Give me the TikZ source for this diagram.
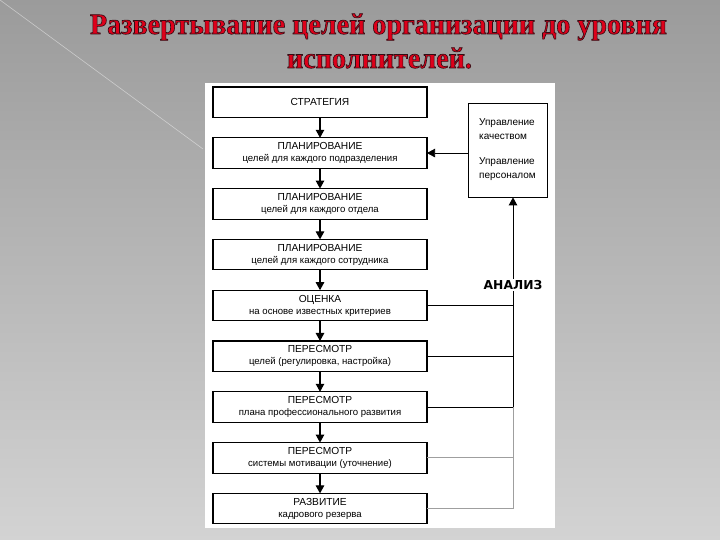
\documentclass[tikz,border=0pt]{standalone}
\usepackage{fontspec}
\setmainfont{Liberation Sans}
\newfontfamily\titlefont{Liberation Serif}
\newfontfamily\analysisfont{DejaVu Sans}
\usetikzlibrary{arrows.meta}
\usetikzlibrary{positioning}

\definecolor{titlered}{RGB}{222,0,26}
\definecolor{bgtop}{RGB}{155,155,155}
\definecolor{bgbottom}{RGB}{211,211,211}

\tikzset {
  syntax path/.style = {
    draw = black,
    line width = 0.8pt
  },
  % path style with an arrow at the end
  arr/.style = {
    syntax path,
    -{Triangle[length=8pt,width=8.5pt]}
  },
  % path style with no arrows
  narr/.style = {
    syntax path
  },
  % scanned lines that came out pale
  faded/.style = {
    syntax path,
    draw = gray!75
  }
}
\tikzset {
  stage/.style = {
    draw = black,
    line width = 1.1pt,
    fill = white,
    rectangle,
    minimum width = 214pt,
    minimum height = 30.5pt,
    inner sep = 0pt,
    outer sep = 0pt,
    align = center,
    font = \fontsize{9.6}{12}\selectfont
  },
  % side box on the right
  side/.style = {
    draw = black,
    line width = 0.8pt,
    fill = white,
    minimum width = 79pt,
    minimum height = 94pt,
    align = left,
    font = \fontsize{10}{14}\selectfont
  },
  title/.style = {
    anchor = base,
    inner sep = 0pt,
    text = titlered,
    font = \titlefont\bfseries\fontsize{29.5}{34}\selectfont
  },
  node distance = 20.3pt
}
\newcommand{\hd}[1]{{\fontsize{10.2}{12}\selectfont #1}}
% red title line with a dark edge round the letters
\newcommand{\edgedline}[2]{%
  \special{pdf:code q 2 Tr 0.65 w 0.2 0.05 0.08 RG}%
  \resizebox{#1}{\height}{#2}%
  \special{pdf:code Q}}

\begin{document}
\begin{tikzpicture}[x=1pt,y=1pt]
  \useasboundingbox (0,0) rectangle (720,540);
  \shade[top color=bgtop, bottom color=bgbottom] (0,0) rectangle (720,540);
  \draw[white, opacity=0.45, line width=0.6pt] (0,540) -- (203,391);
  \fill[white] (205,457) rectangle (555,12);

  % title
  \node[title] (title1) at (378.5,506)
    {\edgedline{577pt}{Развертывание целей организации до уровня}};
  \node[title] (title2) at (379.5,472)
    {\edgedline{185pt}{исполнителей.}};

  \node[stage] (strategy) at (320,437.75) {\hd{СТРАТЕГИЯ}};
  \node[stage] (plandept) [below=of strategy]
    {\hd{ПЛАНИРОВАНИЕ}\\целей для каждого подразделения};
  \node[stage] (plandiv) [below=of plandept]
    {\hd{ПЛАНИРОВАНИЕ}\\целей для каждого отдела};
  \node[stage] (planstaff) [below=of plandiv]
    {\hd{ПЛАНИРОВАНИЕ}\\целей для каждого сотрудника};
  \node[stage] (assess) [below=of planstaff]
    {\hd{ОЦЕНКА}\\на основе известных критериев};
  \node[stage] (revgoals) [below=of assess]
    {\hd{ПЕРЕСМОТР}\\целей (регулировка, настройка)};
  \node[stage] (revplan) [below=of revgoals]
    {\hd{ПЕРЕСМОТР}\\плана профессионального развития};
  \node[stage] (revmotiv) [below=of revplan]
    {\hd{ПЕРЕСМОТР}\\системы мотивации (уточнение)};
  \node[stage] (reserve) [below=of revmotiv]
    {\hd{РАЗВИТИЕ}\\кадрового резерва};

  \node[side] (manage) at (507.5,390)
    {Управление\\качеством\\[11pt]Управление\\персоналом};
  \node[font=\analysisfont\bfseries\fontsize{12.3}{14}\selectfont,
    inner sep=1.5pt] (analysis) at (513,255) {АНАЛИЗ};

  \foreach \a/\b in {strategy/plandept, plandept/plandiv, plandiv/planstaff,
    planstaff/assess, assess/revgoals, revgoals/revplan, revplan/revmotiv,
    revmotiv/reserve}
    \draw[arr, line width=1.1pt] (\a) -- (\b);

  \draw[arr, line width=0.6pt] (manage.west |- plandept.east) -- (plandept.east);
  \draw[arr, line width=1pt] (analysis.north) -- (analysis.north |- manage.south);

  \draw[narr] (analysis.south) -- (analysis.south |- revplan.east);
  \draw[faded] (analysis.south |- revplan.east) -- (analysis.south |- reserve.east);
  \foreach \b in {assess, revgoals, revplan}
    \draw[narr] (\b.east) -- (\b.east -| analysis.south);
  \foreach \b in {revmotiv, reserve}
    \draw[faded] (\b.east) -- (\b.east -| analysis.south);
\end{tikzpicture}
\end{document}
